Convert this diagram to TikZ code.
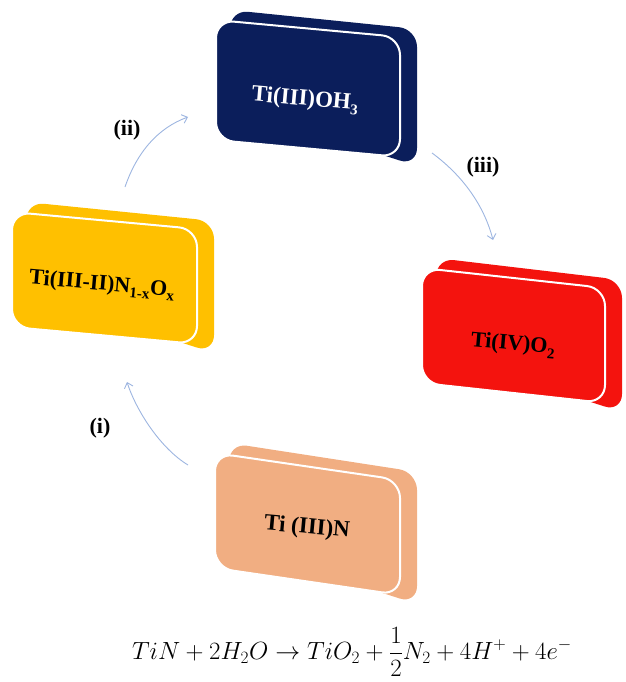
\documentclass[tikz,border=0pt]{standalone}
\usepackage[no-math]{fontspec}
\newfontfamily\tnr{Liberation Serif}
\usetikzlibrary{arrows.meta}
\definecolor{navyc}{HTML}{0B1E5B}
\definecolor{yelc}{HTML}{FFC000}
\definecolor{redc}{HTML}{F4130E}
\definecolor{peachc}{HTML}{F1AE82}
\definecolor{arrc}{HTML}{9DB5E0}
\newcommand\slabbox[6]{%
  \fill[#1, rounded corners=18pt] (#2+14,#4-10) -- (#3+17,#4+#5-8) -- (#3+17,#4+#5+#6+9) -- (#3-30,#4+#5+#6-6) -- (#2+16,#4+#6-8) -- cycle;
  \filldraw[fill=#1, draw=white, line width=2pt, rounded corners=18pt] (#2,#4) -- (#3,#4+#5) -- (#3,#4+#5+#6) -- (#2,#4+#6) -- cycle;}
\newcommand\sbs[1]{\raisebox{-5pt}{\fontsize{15}{15}\selectfont #1}}
\tikzset{
  boxtext/.style={font=\tnr\bfseries\fontsize{23}{27}\selectfont, rotate=-5, inner sep=0pt},
  steplabel/.style={font=\tnr\bfseries\fontsize{22}{26}\selectfont, inner sep=0pt},
  cyc/.style={draw=arrc, line width=0.9pt, -{Straight Barb[length=5pt,width=9pt]}}
}
\begin{document}
\begin{tikzpicture}[x=1pt,y=-1pt]
\useasboundingbox (0,0) rectangle (625,682);
% slabs
\slabbox{navyc}{216}{400}{20}{17}{120}
\slabbox{yelc}{12}{197}{212}{17}{115}
\slabbox{redc}{422}{605}{268}{20}{115}
\slabbox{peachc}{215}{400}{453}{27}{115}
% texts
\node[boxtext, text=white] (nOH) at (305,100) {Ti(III)OH\sbs{3}};
\node[boxtext, font=\tnr\bfseries\fontsize{22}{26}\selectfont] (nNO) at (102,285) {Ti(III-II)N\sbs{1-x}O\sbs{x}};
\node[boxtext, font=\tnr\bfseries\fontsize{22}{26}\selectfont] (nO2) at (513,345) {Ti(IV)O\sbs{2}};
\node[boxtext] (nN) at (307,528) {Ti (III)N};
% step labels
\node[steplabel] (lii) at (127,130) {(ii)};
\node[steplabel] (liii) at (483,167) {(iii)};
\node[steplabel] (li) at (100,428) {(i)};
% arrows
\coordinate (aiis) at (125,187);
\coordinate (aiie) at (188,117);
\coordinate (aiiis) at (432,153);
\coordinate (aiiie) at (493,240);
\coordinate (ais) at (188,465);
\coordinate (aie) at (127,382);
\draw[cyc] (aiis) .. controls (137,152) and (158,128) .. (aiie);
\draw[cyc] (aiiis) .. controls (462,175) and (484,205) .. (aiiie);
\draw[cyc] (ais) .. controls (160,448) and (136,410) .. (aie);
% equation
\node (eq) at (352,652) {\fontsize{24}{29}\selectfont $TiN + 2H_2O \rightarrow TiO_2 + \displaystyle\frac{1}{2}N_2 + 4H^+ + 4e^-$};
\end{tikzpicture}
\end{document}
